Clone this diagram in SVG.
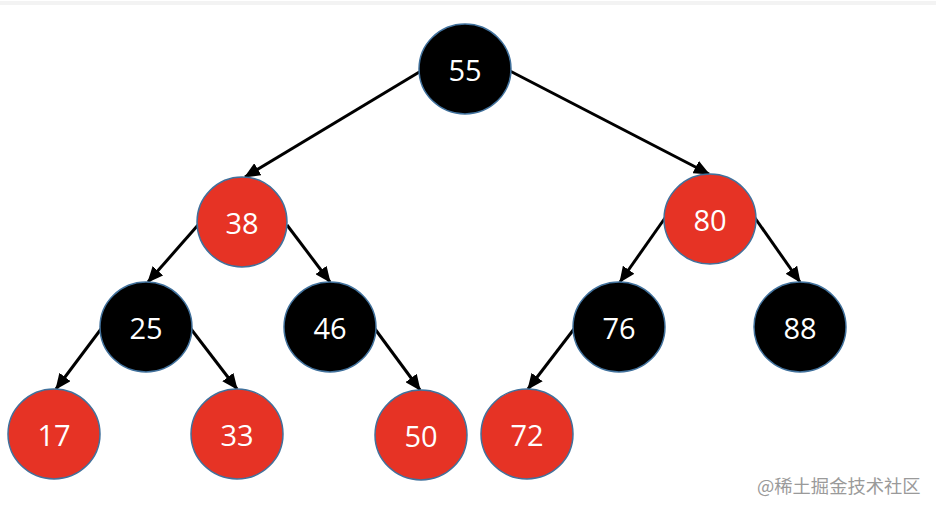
<svg xmlns="http://www.w3.org/2000/svg" width="936" height="512" viewBox="0 0 936 512">
<style>
.red ellipse{fill:#E63325;stroke:#41719C;stroke-width:1.5}
.blk ellipse{fill:#000;stroke:#41719C;stroke-width:1.5}
.node text{fill:#fff;font-family:"Open Sans","Liberation Sans",sans-serif;font-size:29px;text-anchor:middle;dominant-baseline:central}
#edges line{stroke:#000;stroke-width:3;marker-end:url(#arr)}
.wm{fill:#9a9a9a;font-family:"Noto Sans CJK SC","Liberation Sans",sans-serif;font-size:18.3px}
</style>
<defs>
<marker id="arr" markerUnits="userSpaceOnUse" markerWidth="16" markerHeight="14" refX="15" refY="7" orient="auto">
<path d="M0,0 L16,7 L0,14 z" fill="#000"/>
</marker>
</defs>
<rect width="936" height="512" fill="#fff"/>
<rect x="0" y="1" width="936" height="4" fill="#f3f3f3"/>
<g id="edges">
<line x1="421" y1="71" x2="245" y2="177"/>
<line x1="510" y1="71" x2="709" y2="174"/>
<line x1="198" y1="225" x2="148" y2="282"/>
<line x1="287" y1="225" x2="330" y2="282"/>
<line x1="665" y1="218" x2="620" y2="282"/>
<line x1="755" y1="218" x2="800" y2="282"/>
<line x1="101" y1="329" x2="56" y2="389"/>
<line x1="191" y1="329" x2="237" y2="389"/>
<line x1="375" y1="329" x2="420" y2="390"/>
<line x1="574" y1="329" x2="528" y2="389"/>
</g>
<g id="n55" class="node blk"><ellipse cx="465" cy="69" rx="46" ry="45"/><text x="465" y="69">55</text></g>
<g id="n38" class="node red"><ellipse cx="242" cy="222" rx="45" ry="45"/><text x="242" y="222">38</text></g>
<g id="n80" class="node red"><ellipse cx="710" cy="219" rx="46" ry="45"/><text x="710" y="219">80</text></g>
<g id="n25" class="node blk"><ellipse cx="146" cy="327" rx="46" ry="45"/><text x="146" y="327">25</text></g>
<g id="n46" class="node blk"><ellipse cx="330" cy="327" rx="46" ry="45"/><text x="330" y="327">46</text></g>
<g id="n76" class="node blk"><ellipse cx="619" cy="327" rx="46" ry="45"/><text x="619" y="327">76</text></g>
<g id="n88" class="node blk"><ellipse cx="800" cy="327" rx="46" ry="45"/><text x="800" y="327">88</text></g>
<g id="n17" class="node red"><ellipse cx="54" cy="434" rx="46" ry="45"/><text x="54" y="434">17</text></g>
<g id="n33" class="node red"><ellipse cx="237" cy="434" rx="46" ry="45"/><text x="237" y="434">33</text></g>
<g id="n50" class="node red"><ellipse cx="421" cy="435" rx="46" ry="45"/><text x="421" y="435">50</text></g>
<g id="n72" class="node red"><ellipse cx="527" cy="434" rx="46" ry="45"/><text x="527" y="434">72</text></g>
<text class="wm" x="757" y="493">@稀土掘金技术社区</text>
</svg>
